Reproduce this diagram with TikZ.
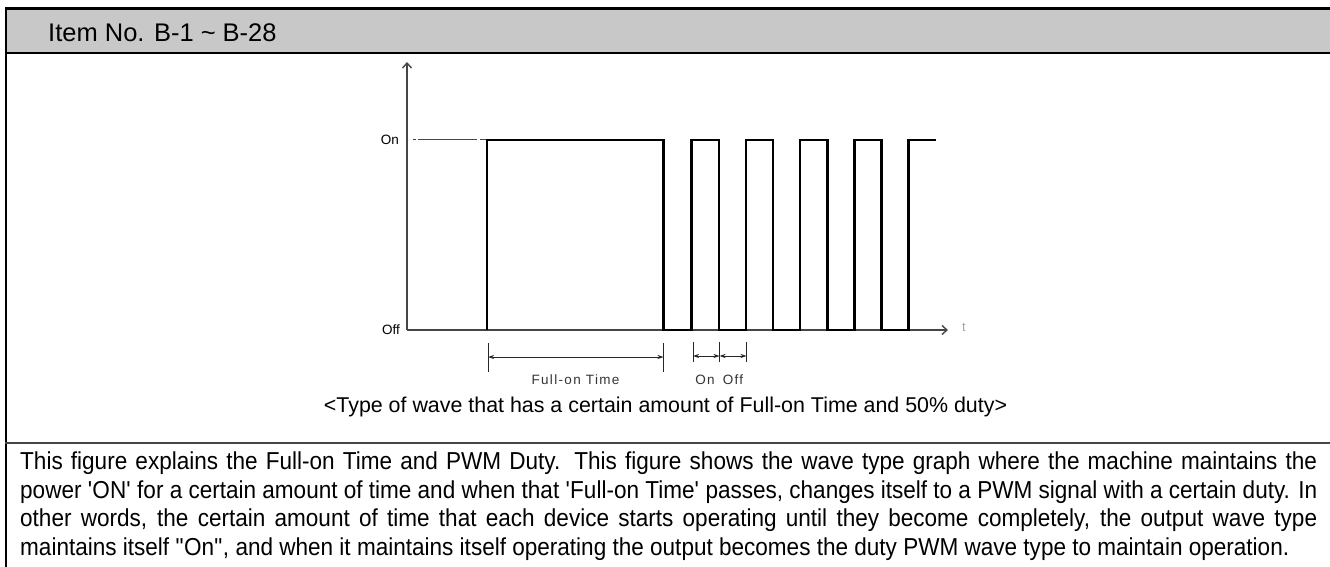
\documentclass[tikz,border=0pt]{standalone}
\usepackage{fontspec}
\setmainfont{Liberation Sans}
\newfontfamily\bodyfont[FakeStretch=0.92]{Liberation Sans}
\newfontfamily\dimfont[LetterSpace=10]{Liberation Sans}
\usepackage{xcolor}
\definecolor{headgray}{RGB}{200, 200, 200}
\definecolor{axisgray}{RGB}{70, 70, 70}
\usetikzlibrary{
    arrows.meta,
    positioning,
    calc
}

\begin{document}
\begin{tikzpicture}[
    x=1pt, y=-1pt,
    >=Stealth,
    frame/.style={draw=black, line width=2.2pt},
    rule/.style={draw=axisgray, line width=1.5pt},
    axis/.style={draw=axisgray, line width=1.4pt, -{Straight Barb[length=5pt,width=9pt]}},
    wave/.style={draw=black, line width=2.6pt, line join=miter},
    dim/.style={draw=black!85, line width=1pt, {Stealth[length=6pt,width=4pt]}-{Stealth[length=6pt,width=4pt]}},
    dimtick/.style={draw=black!85, line width=1pt},
    lvl/.style={anchor=east, inner sep=0pt, font=\fontsize{13.5}{15}\selectfont},
    dimlabel/.style={inner sep=0pt, text=black!80, font=\dimfont\fontsize{13.5}{15}\selectfont}
]
\useasboundingbox (0,0) rectangle (1330,567);

% ==================== FRAME & HEADER ====================
\fill[headgray] (5,9) rectangle (1330,53);
\draw[frame, line width=2.6pt] (5,8.5) -- (1330,8.5);
\draw[frame, line width=1.8pt] (5,52.8) -- (1330,52.8);
\draw[frame] (6,7.5) -- (6,567);
\node[anchor=base west, inner sep=0pt, font=\fontsize{25.5}{30}\selectfont] (item) at (48,41.5) {Item No. B-1 \textasciitilde{} B-28};

% ==================== AXES ====================
\coordinate (origin) at (407,330);
\coordinate (ytip) at (407,62);
\coordinate (xtip) at (948,330);
\draw[axis] (origin) -- (ytip);
\draw[axis] (origin) -- (xtip);
\node[lvl] (onlvl) at (399,140) {On};
\node[lvl] (offlvl) at (400,330) {Off};
\node[inner sep=0pt, text=black!35, font=\fontsize{13}{15}\selectfont] (tlbl) at (964,327) {t};
\draw[axisgray, line width=1pt, dash pattern=on 0pt off 6pt on 3pt off 2pt on 59pt off 3pt on 12pt] (407,140) -- (487,140);

% ==================== WAVE ====================
\draw[wave] (487,330) -- (487,140) -- (663.5,140) -- (663.5,330)
    \foreach \k in {0,...,3} {
        -- ({691.5+54.3*\k},330) -- ({691.5+54.3*\k},140)
        -- ({718.8+54.3*\k},140) -- ({718.8+54.3*\k},330)
    }
    -- (908.7,330) -- (908.7,140) -- (936,140);

% ==================== FULL-ON TIME ====================
\coordinate (fullL) at (488,357);
\coordinate (fullR) at (663.5,357);
\draw[dimtick] ($(fullL)+(0,-14)$) -- ($(fullL)+(0,15)$);
\draw[dimtick] ($(fullR)+(0,-14)$) -- ($(fullR)+(0,15)$);
\draw[dim] (fullL) -- (fullR);
\node[dimlabel] (fulllbl) at (575.5,380) {Full-on Time};

% ==================== ON / OFF ====================
\coordinate (onL) at (693,356);
\coordinate (onR) at (719.5,356);
\coordinate (offR) at (746.5,356);
\foreach \c in {onL, onR, offR}
    \draw[dimtick] ($(\c)+(0,-14)$) -- ($(\c)+(0,6)$);
\draw[dim] (onL) -- (onR);
\draw[dim] (onR) -- (offR);
\node[dimlabel] (onlbl) at (705,380) {On};
\node[dimlabel] (offlbl) at (733,380) {Off};

% ==================== CAPTION & TEXT ====================
\node[anchor=base, inner sep=0pt, font=\fontsize{21.4}{25}\selectfont] (caption) at (665.5,412)
    {<Type of wave that has a certain amount of Full-on Time and 50\% duty>};
\draw[rule] (5,443) -- (1330,443);
\node[anchor=north west, inner sep=0pt, text width=1297pt, align=justify] (body) at (20,452) {%
    \bodyfont\fontsize{24.5}{28.5}\selectfont
    This figure explains the Full-on Time and PWM Duty. This figure shows the wave type graph where the machine maintains the\linebreak
    power \textquotesingle ON\textquotesingle{} for a certain amount of time and when that \textquotesingle Full-on Time\textquotesingle{} passes, changes itself to a PWM signal with a certain duty. In\linebreak
    other words, the certain amount of time that each device starts operating until they become completely, the output wave type\linebreak
    maintains itself \textquotedbl On\textquotedbl, and when it maintains itself operating the output becomes the duty PWM wave type to maintain operation.\par};

\end{tikzpicture}
\end{document}
